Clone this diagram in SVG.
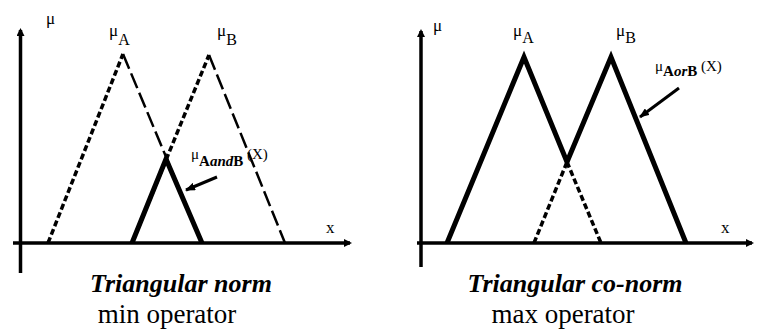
<svg xmlns="http://www.w3.org/2000/svg" width="768" height="333" viewBox="0 0 768 333">
<style>
.ax{stroke:#000;stroke-width:3.5;fill:none}
.solid{stroke:#000;stroke-width:5;fill:none;stroke-linejoin:miter}
.sd{stroke:#000;stroke-width:3.5;fill:none;stroke-dasharray:6 3}
.ld{stroke:#000;stroke-width:2.5;fill:none;stroke-dasharray:16 5}
.ptr{stroke:#000;stroke-width:3;fill:none}
text{font-family:"Liberation Serif","Times New Roman",serif;fill:#000}
.lbl{font-size:17px}
.sub{font-size:16px}
.title{font-size:26px;font-weight:bold;font-style:italic}
.cap{font-size:27px}
</style>
<defs>
<marker id="ah" markerWidth="8" markerHeight="8" refX="6" refY="4" orient="auto" markerUnits="userSpaceOnUse">
<path d="M0,0 L8,4 L0,8 Z" fill="#000"/>
</marker>
<marker id="pa" markerWidth="10" markerHeight="8" refX="9" refY="4" orient="auto" markerUnits="userSpaceOnUse">
<path d="M0,0 L10,4 L0,8 Z" fill="#000"/>
</marker>
</defs>

<g id="left-axes">
<line class="ax" x1="20.5" y1="273" x2="20.5" y2="30" marker-end="url(#ah)"/>
<line class="ax" x1="13" y1="243" x2="350" y2="243" marker-end="url(#ah)"/>
<text class="lbl" x="46" y="24">μ</text>
<text class="lbl" x="326" y="233">x</text>
</g>

<g id="left-muA">
<line class="sd" x1="48" y1="243" x2="123" y2="54"/>
<line class="ld" x1="123" y1="54" x2="202" y2="243"/>
<text class="lbl" x="109" y="36">μ<tspan class="sub" dy="9">A</tspan></text>
</g>

<g id="left-muB">
<line class="sd" x1="132" y1="243" x2="209" y2="55"/>
<line class="ld" x1="209" y1="55" x2="285" y2="243"/>
<text class="lbl" x="217" y="36">μ<tspan class="sub" dy="9">B</tspan></text>
</g>

<g id="left-and">
<polyline class="solid" points="132,243 166,159 202,243"/>
<text class="lbl" x="191" y="159" style="font-size:15px">μ<tspan dy="7" style="font-size:15px;font-weight:bold">A<tspan style="font-style:italic">and</tspan>B</tspan><tspan dy="-7"> (X)</tspan></text>
</g>

<g id="right-axes">
<line class="ax" x1="421" y1="267" x2="421" y2="31" marker-end="url(#ah)"/>
<line class="ax" x1="417" y1="243" x2="752" y2="243" marker-end="url(#ah)"/>
<text class="lbl" x="433" y="31">μ</text>
<text class="lbl" x="721" y="233">x</text>
</g>

<g id="right-muA">
<line class="sd" x1="567" y1="162" x2="601" y2="243"/>
<text class="lbl" x="513" y="36">μ<tspan class="sub" dy="7">A</tspan></text>
</g>

<g id="right-muB">
<line class="sd" x1="534" y1="243" x2="567" y2="162"/>
<text class="lbl" x="616" y="36">μ<tspan class="sub" dy="7">B</tspan></text>
</g>

<g id="right-or">
<polyline class="solid" points="447,243 524,57 567,162 611,57 686,243"/>
<text class="lbl" x="655" y="71" style="font-size:15px">μ<tspan dy="5" style="font-size:15px;font-weight:bold">A<tspan style="font-style:italic">or</tspan>B</tspan><tspan dy="-5"> (X)</tspan></text>
</g>

<g id="connectors">
<line class="ptr" x1="217" y1="177" x2="186" y2="190" marker-end="url(#pa)"/>
<line class="ptr" x1="679" y1="88" x2="640" y2="117" marker-end="url(#pa)"/>
</g>

<g id="captions">
<text class="title" x="181" y="292" text-anchor="middle">Triangular norm</text>
<text class="cap" x="167" y="323" text-anchor="middle">min operator</text>
<text class="title" x="575" y="292" text-anchor="middle">Triangular co-norm</text>
<text class="cap" x="563" y="323" text-anchor="middle">max operator</text>
</g>
</svg>
